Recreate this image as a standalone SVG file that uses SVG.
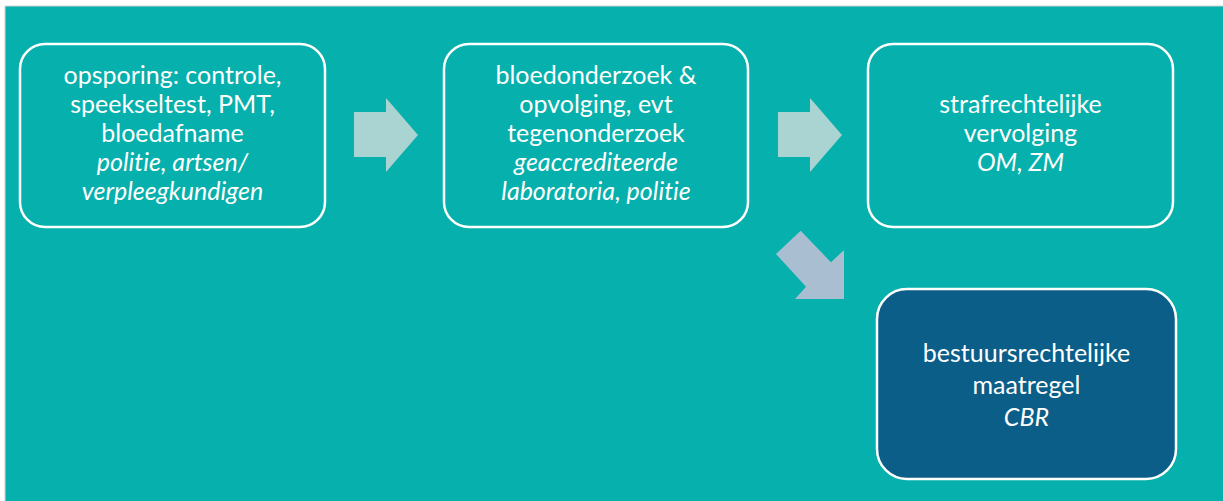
<svg xmlns="http://www.w3.org/2000/svg" width="1223" height="501" viewBox="0 0 1223 501">
<style>
.box{fill:none;stroke:#fff;stroke-width:2.5}
.dark{fill:#0B5E87;stroke:#fff;stroke-width:2.5}
text{font-family:Lato,"Open Sans",sans-serif;font-size:25px;fill:#fff;text-anchor:middle;font-variant-ligatures:none}
.i{font-style:italic}
.arr{fill:#AAD4D1}
.darr{fill:#A9BFD1}
</style>
<rect x="0" y="0" width="1223" height="501" fill="#fff"/>
<rect x="5" y="6" width="1220" height="497" fill="#06B0AC" stroke="#D4D4D4" stroke-width="1"/>
<g id="connectors">
<polygon class="arr" points="354,112 386,112 386,98 418,135 386,172 386,157 354,157"/>
<polygon class="arr" points="778,112 810,112 810,98 842,135 810,172 810,157 778,157"/>
<polygon class="darr" points="776,254 800.7,230.7 831,262.3 844,250 844,299 795,299 806,286.7"/>
</g>
<g id="node1">
<rect class="box" x="20" y="44" width="305" height="183" rx="25"/>
<text x="172.5" y="84">opsporing: controle,</text>
<text x="172.5" y="113">speekseltest, PMT,</text>
<text x="172.5" y="142">bloedafname</text>
<text x="172.5" y="171" class="i">politie, artsen/</text>
<text x="172.5" y="200" class="i">verpleegkundigen</text>
</g>
<g id="node2">
<rect class="box" x="444" y="44" width="304" height="183" rx="25"/>
<text x="596" y="84">bloedonderzoek &amp;</text>
<text x="596" y="113">opvolging, evt</text>
<text x="596" y="142">tegenonderzoek</text>
<text x="596" y="171" class="i">geaccrediteerde</text>
<text x="596" y="200" class="i">laboratoria, politie</text>
</g>
<g id="node3">
<rect class="box" x="868" y="44" width="305" height="183" rx="25"/>
<text x="1020.5" y="113">strafrechtelijke</text>
<text x="1020.5" y="142">vervolging</text>
<text x="1020.5" y="171" class="i">OM, ZM</text>
</g>
<g id="node4">
<rect class="dark" x="877" y="289" width="299" height="190" rx="30"/>
<text x="1026.5" y="362">bestuursrechtelijke</text>
<text x="1026.5" y="394">maatregel</text>
<text x="1026.5" y="426" class="i">CBR</text>
</g>
</svg>
